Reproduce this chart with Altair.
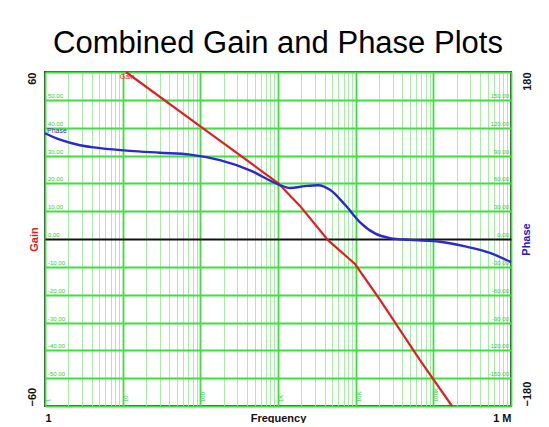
import altair as alt
import pandas as pd

# ---- data ----
gain_freq = [11, 100, 1000, 1920, 4400, 9800, 20600, 67300, 174000]
gain_db = [60, 40.5, 20.1, 11.9, -0.4, -9.0, -21.9, -43.5, -60]

phase_freq = [1, 1.56, 2.82, 5.1, 12.4, 30, 74, 179, 436, 1000, 1430, 2220, 3270,
              4670, 7280, 11400, 17700, 27700, 50000, 122000, 256000, 536000, 1000000]
phase_deg = [114, 107, 101, 98, 95, 93, 91, 85, 74, 59, 55, 57, 58,
             53, 37, 18, 6, 1, -1, -3, -8, -15, -25]

gain_ticks = list(range(-60, 61, 10))
phase_ticks = [-180, 180]
inner_gain_values = [50, 40, 30, 20, 10, 0, -10, -20, -30, -40, -50]
inner_phase_values = [150, 120, 90, 60, 30, 0, -30, -60, -90, -120, -150]
decade_values = [1, 10, 100, 1000, 10000, 100000]
decade_labels = ["1", "10", "100", "1K", "10K", "100K"]
grid_freq = [m * 10 ** k for k in range(6) for m in range(1, 10)] + [10 ** 6]

W, H = 466, 334
GREEN = "#3de03d"
LIGHT = "#a8eea8"

gain_df = pd.DataFrame({"f": gain_freq, "v": gain_db})
phase_df = pd.DataFrame({"f": phase_freq, "v": phase_deg})
inner_gain_df = pd.DataFrame({"v": inner_gain_values,
                              "t": [f"{v:.2f}" for v in inner_gain_values]})
inner_phase_df = pd.DataFrame({"v": inner_phase_values,
                               "t": [f"{v:.2f}" for v in inner_phase_values]})
decade_df = pd.DataFrame({"f": decade_values, "t": decade_labels})
gain_lab_df = pd.DataFrame({"f": [11.4], "v": [60], "t": ["Gain"]})
phase_lab_df = pd.DataFrame({"f": [1.0], "v": [113], "t": ["Phase"]})

def xs():
    return alt.Scale(type="log", domain=[1, 1e6], nice=False)

def gs():
    return alt.Scale(domain=[-60, 60], nice=False, zero=False)

def ps():
    return alt.Scale(domain=[-180, 180], nice=False, zero=False)

major_test = "indexof([1,10,100,1000,10000,100000,1000000], datum.value) >= 0"
x_axis = alt.Axis(
    values=grid_freq,
    labelExpr="datum.value == 1 ? '1' : (datum.value == 1000000 ? '1 M' : '')",
    labelFlush=True, labelOverlap=False, ticks=False, domain=False,
    labelPadding=6, labelFontSize=11, labelFontWeight="bold", labelColor="#111",
    grid=True,
    gridColor={"condition": {"test": major_test, "value": GREEN}, "value": LIGHT},
    gridWidth={"condition": {"test": major_test, "value": 1.8}, "value": 1},
    title="Frequency", titleFontSize=11, titleFontWeight="bold", titleColor="#111",
    titleY=6, titleBaseline="top",
)

flush_align = {"condition": {"test": "datum.value > 0", "value": "right"}, "value": "left"}

gain_axis = alt.Axis(
    orient="left", values=gain_ticks,
    labelExpr="datum.value == 60 || datum.value == -60 ? datum.label : ''",
    labelAngle=270, labelAlign=flush_align, labelBaseline="bottom",
    labelPadding=8, labelFontSize=11, labelFontWeight="bold", labelColor="#111",
    labelOverlap=False, ticks=False, domain=False,
    grid=True,
    gridColor={"condition": {"test": "datum.value == 0", "value": "#111"}, "value": GREEN},
    gridWidth=1.8,
    title="Gain", titleColor="#e02020", titleAngle=270, titleX=-6, titleY=H / 2,
    titleBaseline="bottom", titleAlign="center", titleFontSize=11, titleFontWeight="bold",
)

phase_axis = alt.Axis(
    orient="right", values=phase_ticks,
    labelAngle=270, labelAlign=flush_align, labelBaseline="top",
    labelPadding=10, labelFontSize=11, labelFontWeight="bold", labelColor="#111",
    labelOverlap=False, ticks=False, domain=False, grid=False,
    title="Phase", titleColor="#2020c0", titleAngle=270, titleX=9, titleY=H / 2,
    titleBaseline="top", titleAlign="center", titleFontSize=11, titleFontWeight="bold",
)

gain_line = alt.Chart(gain_df).mark_line(color="#e02020", strokeWidth=2.2).encode(
    x=alt.X("f:Q", scale=xs(), axis=x_axis),
    y=alt.Y("v:Q", scale=gs(), axis=gain_axis),
)
phase_line = alt.Chart(phase_df).mark_line(
    color="#2a2ad0", strokeWidth=2.4, interpolate="monotone"
).encode(
    x=alt.X("f:Q", scale=xs(), axis=x_axis),
    y=alt.Y("v:Q", scale=ps(), axis=phase_axis),
)
inner_gain = alt.Chart(inner_gain_df).mark_text(
    fontSize=6, color="#33cc33", align="left", baseline="bottom", dy=-1
).encode(x=alt.value(3), y=alt.Y("v:Q", scale=gs(), axis=None), text="t:N")
inner_phase = alt.Chart(inner_phase_df).mark_text(
    fontSize=6, color="#33cc33", align="right", baseline="bottom", dy=-1
).encode(x=alt.value(W - 2), y=alt.Y("v:Q", scale=ps(), axis=None), text="t:N")
gain_label = alt.Chart(gain_lab_df).mark_text(
    fontSize=7, color="#e02020", align="center", baseline="top", dy=1
).encode(x=alt.X("f:Q", scale=xs(), axis=x_axis),
         y=alt.Y("v:Q", scale=gs(), axis=None), text="t:N")
phase_label = alt.Chart(phase_lab_df).mark_text(
    fontSize=7, color="#2a2ad0", align="left", baseline="bottom", dx=2
).encode(x=alt.X("f:Q", scale=xs(), axis=x_axis),
         y=alt.Y("v:Q", scale=ps(), axis=None), text="t:N")
decade_text = alt.Chart(decade_df).mark_text(
    fontSize=6, color="#33cc33", align="left", baseline="top", angle=270
).encode(x=alt.X("f:Q", scale=xs(), axis=x_axis), y=alt.value(H - 4), text="t:N")

chart = alt.layer(
    gain_line, phase_line, inner_gain, inner_phase, gain_label, phase_label, decade_text
).resolve_scale(y="independent").properties(
    width=W, height=H,
    title=alt.TitleParams("Combined Gain and Phase Plots", fontSize=31,
                          font="Liberation Sans", fontWeight="normal",
                          anchor="middle", baseline="alphabetic", offset=19,
                          dy=35, frame="group", color="#000"),
    autosize=alt.AutoSizeParams(type="none"),
    padding={"left": 37, "top": 64, "right": 30, "bottom": 17},
).configure(font="Liberation Sans").configure_view(stroke="#333", strokeWidth=2)

chart.save("out.html", embed_options={"renderer": "svg", "actions": False})
